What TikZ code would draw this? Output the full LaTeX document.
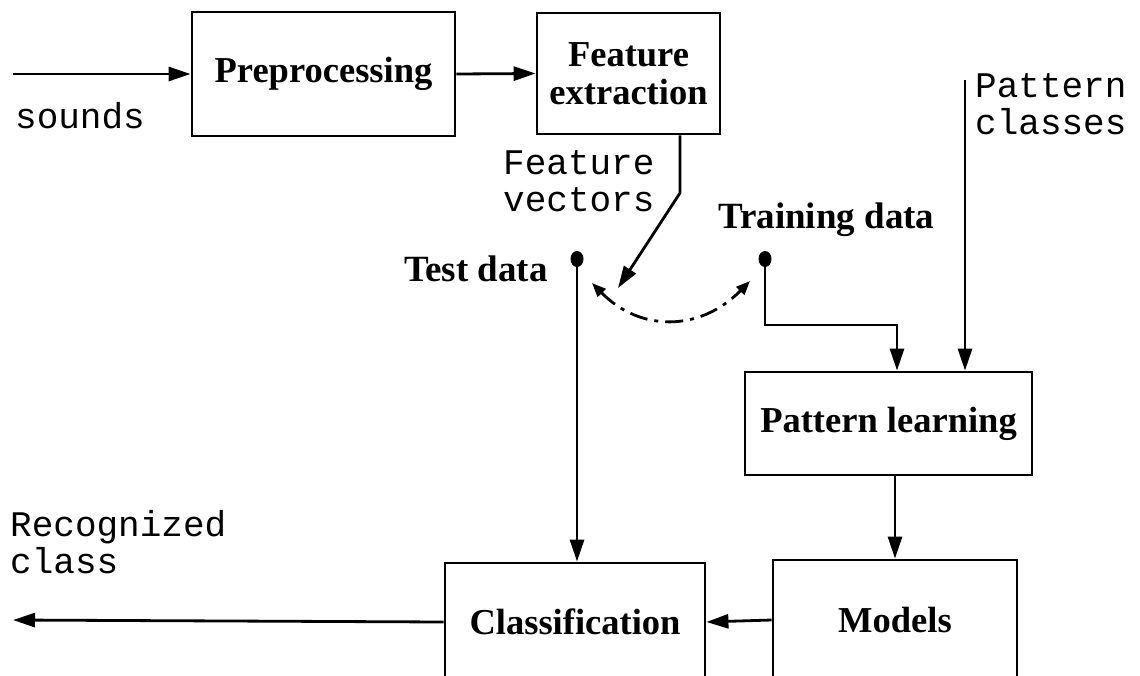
\documentclass[tikz,border=0pt]{standalone}
\usepackage{fontspec}
\setmainfont{Liberation Serif}
\setmonofont{Liberation Mono}
\usetikzlibrary{arrows.meta,shapes.geometric}
\begin{document}
\begin{tikzpicture}[x=1pt,y=-1pt,
  box/.style={draw,line width=2.8pt,inner sep=0pt,align=center,
    font=\fontsize{36.5}{38}\selectfont\bfseries},
  lbl/.style={inner sep=0pt,font=\fontsize{37}{38}\selectfont\bfseries},
  mono/.style={inner sep=0pt,align=left,font=\fontsize{36}{37}\selectfont\ttfamily},
  conn/.style={line width=2.8pt,-{Triangle[length=22pt,width=14pt]}},
  dot/.style={ellipse,fill,inner sep=0pt,minimum width=13pt,minimum height=16pt}
]
\useasboundingbox (0,0) rectangle (1140,675);
\clip (0,0) rectangle (1140,675);
% boxes
\node[box,minimum width=263pt,minimum height=124pt] (pre) at (323.5,74) {Preprocessing};
\node[box,minimum width=183pt,minimum height=121pt] (fe) at (628.5,73.5) {Feature\\extraction};
\node[box,minimum width=287pt,minimum height=103pt] (pl) at (888.5,423.5) {Pattern learning};
\node[box,minimum width=244pt,minimum height=120pt] (mod) at (895,620) {Models};
\node[box,minimum width=260pt,minimum height=118pt] (cls) at (575,622) {Classification};
% dots
\node[dot] (test) at (577,259) {};
\node[dot] (train) at (765,259) {};
% labels
\node[mono,anchor=base west] (snd) at (15,128) {sounds};
\node[mono,anchor=base west] (fv) at (503,211) {Feature\\vectors};
\node[mono,anchor=base west] (pc) at (975,134) {Pattern\\classes};
\node[mono,anchor=base west] (rc) at (10,573) {Recognized\\class};
\node[lbl,anchor=base west] (td) at (718,228) {Training data};
\node[lbl,anchor=base west] (ts) at (404,281) {Test data};
% coordinates
\coordinate (in) at (13,74);
\coordinate (out) at (13,620);
\coordinate (fvk) at (680,193);
\coordinate (fvt) at (618,288);
\coordinate (trk) at (765,325);
\coordinate (pctop) at (965,80);
\coordinate (swa) at (592,283);
\coordinate (swb) at (750,281);
% connectors
\draw[conn] (in) -- (pre.west);
\draw[conn] (pre.east) -- (fe.west);
\draw[conn] (fe.south -| fvk) -- (fvk) -- (fvt);
\draw[conn] (test.center) -- (cls.north -| test);
\draw[conn] (train.center) -- (trk) -| (pl.north -| 897,0);
\draw[conn] (pctop) -- (pl.north -| pctop);
\draw[conn] (pl.south -| mod.north) -- (mod.north);
\draw[conn] (mod.west) -- (cls.east);
\draw[conn] (cls.west) -- (out);
\draw[line width=2.8pt,dash pattern=on 18pt off 7pt on 4pt off 7pt,
  {Triangle[length=14pt,width=11pt]}-{Triangle[length=14pt,width=11pt]}]
  (swa) .. controls (640,332) and (700,332) .. (swb);
\end{tikzpicture}
\end{document}
